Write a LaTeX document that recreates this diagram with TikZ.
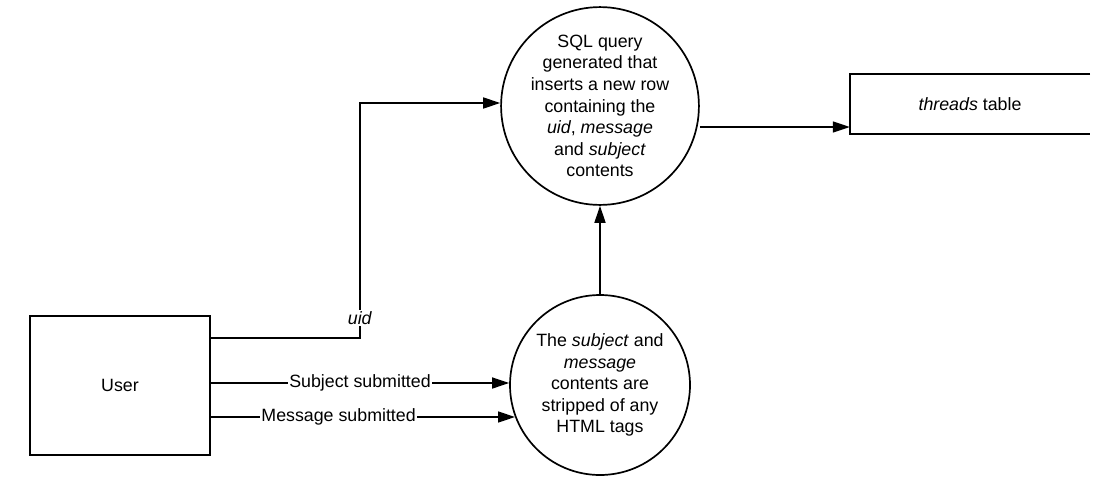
\documentclass[tikz,border=0pt]{standalone}
\usepackage{fontspec}
\setmainfont{Liberation Sans}
\usetikzlibrary{arrows.meta,positioning}

\begin{document}
\begin{tikzpicture}[x=1pt,y=-1pt,
  every node/.style={font=\fontsize{17.8}{21.6}\selectfont},
  proc/.style={circle,draw,line width=1.7pt,minimum size=180pt,inner sep=0pt,align=center},
  ent/.style={rectangle,draw,line width=1.7pt,minimum width=180pt,minimum height=139pt},
  flow/.style={-{Triangle[length=17pt,width=11pt]},line width=1.5pt},
  lbl/.style={fill=white,inner sep=1pt}]
\useasboundingbox (0,0) rectangle (1114,485);
% processes
\node[proc] (query) at (600,106)
  {SQL query\\generated that\\inserts a new row\\containing the\\\textit{uid}, \textit{message}\\and \textit{subject}\\contents};
\node[proc] (strip) at (600,385)
  {The \textit{subject} and\\\textit{message}\\contents are\\stripped of any\\HTML tags};
% entities
\node[ent] (user) at (120,385.5) {User};
\node[minimum width=240pt,minimum height=60pt] (threads) at (970,104) {\textit{threads} table};
\draw[line width=1.7pt] (threads.north east) -- (threads.north west)
  -- (threads.south west) -- (threads.south east);
% flows
\coordinate (uidA) at (360,338);
\coordinate (uidB) at (360,103);
\draw[flow] (user.east |- uidA) -- (uidA) -- (uidB) -- (uidB -| query.west);
\node[lbl] (uid) at (360,318) {\textit{uid}};
\draw[flow] (user.east |- 0,383) -- node[lbl] (subj) {Subject submitted} (strip.west |- 0,383);
\coordinate (msgEnd) at (515,417);
\draw[flow] (user.east |- msgEnd) -- node[lbl,pos=.42] (msg) {Message submitted} (msgEnd);
\draw[flow] (strip.north) -- (query.south);
\draw[flow] (query.east |- 0,127) -- (threads.west |- 0,127);
\end{tikzpicture}
\end{document}
